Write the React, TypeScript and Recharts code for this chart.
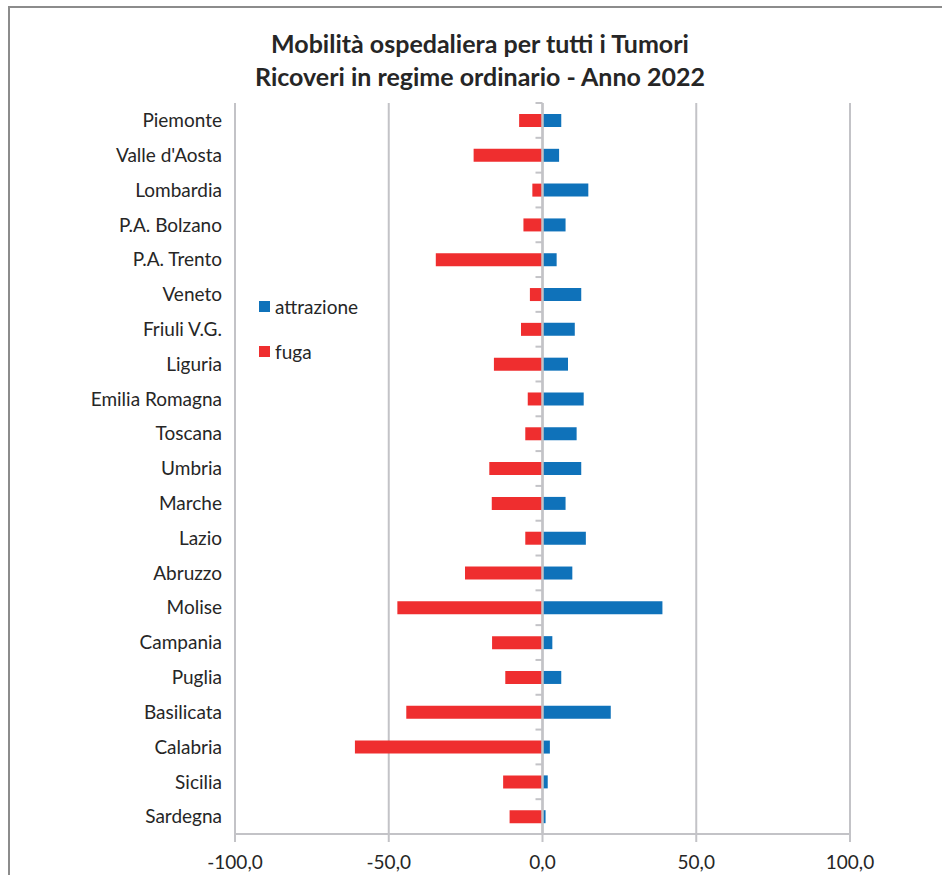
import React from "react";
import {
  BarChart,
  Bar,
  XAxis,
  YAxis,
  CartesianGrid,
  Legend,
  ReferenceLine,
} from "recharts";

const regions = [
  "Piemonte",
  "Valle d'Aosta",
  "Lombardia",
  "P.A. Bolzano",
  "P.A. Trento",
  "Veneto",
  "Friuli V.G.",
  "Liguria",
  "Emilia Romagna",
  "Toscana",
  "Umbria",
  "Marche",
  "Lazio",
  "Abruzzo",
  "Molise",
  "Campania",
  "Puglia",
  "Basilicata",
  "Calabria",
  "Sicilia",
  "Sardegna",
];

const attrazione = [
  6.1, 5.4, 14.9, 7.5, 4.6, 12.6, 10.5, 8.3, 13.4, 11.1, 12.6, 7.5, 14.1, 9.7,
  39.0, 3.2, 6.1, 22.2, 2.4, 1.7, 1.0,
];

const fuga = [
  -7.6, -22.4, -3.3, -6.2, -34.7, -4.1, -7.0, -15.8, -4.8, -5.6, -17.3, -16.5,
  -5.6, -25.2, -47.2, -16.4, -12.1, -44.3, -61.0, -12.8, -10.7,
];

const xTicks = [-100, -50, 0, 50, 100];

const data = regions.map((r, i) => ({
  region: r,
  attrazione: attrazione[i],
  fuga: fuga[i],
}));

const FONT = "Lato, 'Open Sans', sans-serif";
const GRID = "#c3c3c7";
const BLUE = "#0f72ba";
const RED = "#ef2e2f";

// zero axis with small category tick marks on the left side
const ZeroAxis = (props: any) => {
  const { x1, y1, x2, y2 } = props;
  const n = regions.length;
  const marks = [];
  for (let i = 0; i <= n; i++) {
    const y = y1 + ((y2 - y1) * i) / n;
    marks.push(
      <line key={i} x1={x1 - 7} x2={x1} y1={y} y2={y} stroke={GRID} strokeWidth={2} />
    );
  }
  return (
    <g>
      {marks}
      <line x1={x1} x2={x2} y1={y1} y2={y2} stroke={GRID} strokeWidth={2.5} />
    </g>
  );
};

const LegendBox = (props: any) => {
  const { payload } = props;
  return (
    <div style={{ fontFamily: FONT, fontSize: 19, color: "#262626" }}>
      {(payload || []).map((p: any) => (
        <div
          key={p.value}
          style={{ display: "flex", alignItems: "center", height: 22, marginBottom: 23 }}
        >
          <span
            style={{
              display: "inline-block",
              width: 11,
              height: 11,
              background: p.color,
              marginRight: 5,
            }}
          />
          <span>{p.value}</span>
        </div>
      ))}
    </div>
  );
};

export default function App() {
  return (
    <div
      style={{
        position: "absolute",
        left: 8,
        top: 6,
        width: 960,
        height: 900,
        borderLeft: "2px solid #8c8c8c",
        background: "#fff",
        fontFamily: FONT,
      }}
    >
      <style>{"body{overflow:hidden}"}</style>
      {/* top frame edge */}
      <div
        style={{
          position: "absolute",
          left: -2,
          top: 0,
          width: 962,
          height: 2,
          background: "#8c8c8c",
          zIndex: 2,
        }}
      />
      <div
        style={{
          position: "absolute",
          left: 0,
          top: 21,
          width: 940,
          textAlign: "center",
          fontWeight: 700,
          fontSize: 25,
          lineHeight: "33px",
          color: "#262626",
          zIndex: 1,
        }}
      >
        <div>Mobilità ospedaliera per tutti i Tumori</div>
        <div>Ricoveri in regime ordinario - Anno 2022</div>
      </div>
      <div style={{ position: "absolute", left: 0, top: 2 }}>
        <BarChart
          width={940}
          height={876}
          data={data}
          layout="vertical"
          stackOffset="sign"
          margin={{ top: 95, right: 100, bottom: 10, left: 0 }}
          barSize={13}
        >
          <CartesianGrid horizontal={false} stroke={GRID} strokeWidth={2} />
          <XAxis
            type="number"
            domain={[-100, 100]}
            ticks={xTicks}
            interval={0}
            height={40}
            tickFormatter={(v: number) => v.toFixed(1).replace(".", ",")}
            tick={{ fontSize: 19, fill: "#262626", fontFamily: FONT }}
            axisLine={{ stroke: GRID, strokeWidth: 2 }}
            tickLine={{ stroke: GRID, strokeWidth: 2 }}
            tickSize={8}
            tickMargin={14}
          />
          <YAxis
            type="category"
            dataKey="region"
            width={225}
            interval={0}
            axisLine={false}
            tickLine={false}
            tickSize={0}
            tickMargin={13}
            tick={{ fontSize: 19, fill: "#262626", fontFamily: FONT }}
          />
          <Legend
            layout="vertical"
            align="center"
            verticalAlign="middle"
            content={<LegendBox />}
            wrapperStyle={{ position: "absolute", left: 249, top: 287, width: 200 }}
          />
          <Bar dataKey="attrazione" name="attrazione" stackId="a" fill={BLUE} isAnimationActive={false} />
          <Bar dataKey="fuga" name="fuga" stackId="a" fill={RED} isAnimationActive={false} />
          <ReferenceLine x={0} stroke={GRID} shape={ZeroAxis} />
        </BarChart>
      </div>
    </div>
  );
}
